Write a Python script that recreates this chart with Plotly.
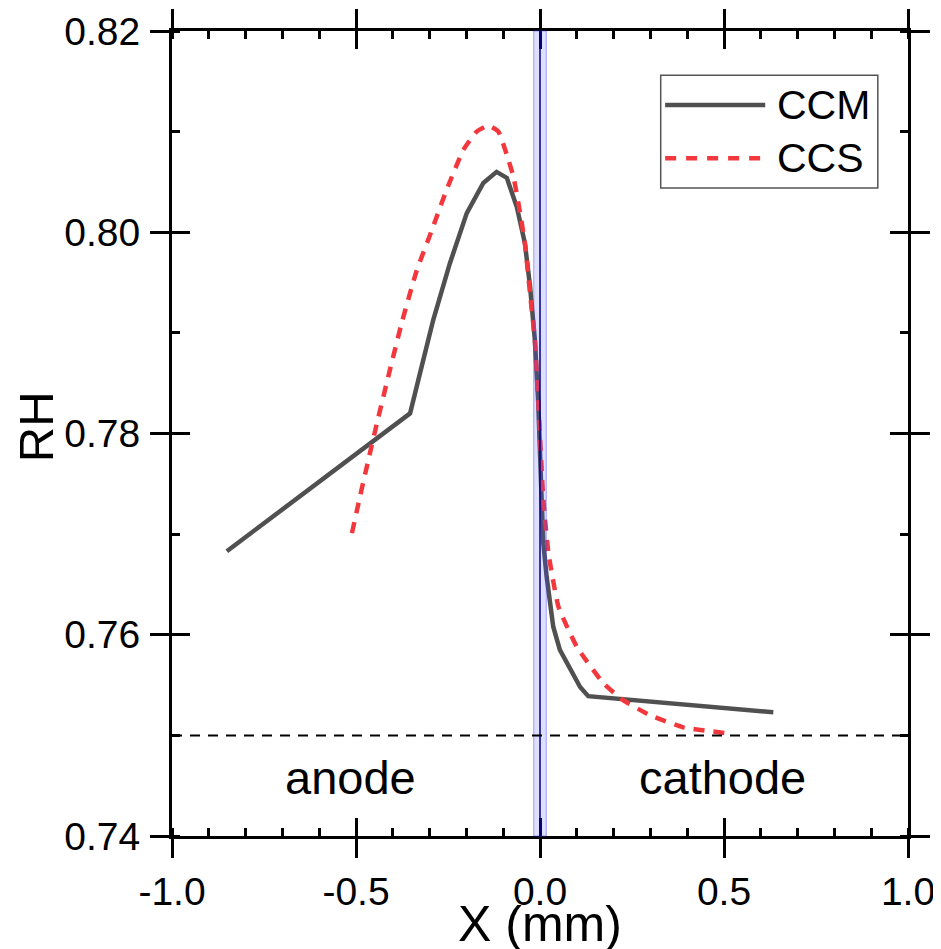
import plotly.graph_objects as go

# ---- data ----
ccm_x = [-0.851, -0.353, -0.326, -0.290, -0.245, -0.199, -0.154, -0.118, -0.090,
         -0.063, -0.041, -0.027, -0.014, -0.005, 0.0045, 0.009, 0.018, 0.036,
         0.054, 0.082, 0.109, 0.131, 0.254, 0.417, 0.634]
ccm_y = [0.7683, 0.7820, 0.7860, 0.7913, 0.7969, 0.8019, 0.8049, 0.8060, 0.8054,
         0.8025, 0.7989, 0.7946, 0.7893, 0.7833, 0.7734, 0.7691, 0.7658, 0.7608,
         0.7585, 0.7565, 0.7548, 0.7539, 0.7535, 0.7530, 0.7523]

ccs_x = [-0.511, -0.490, -0.465, -0.440, -0.410, -0.375, -0.335, -0.294, -0.254,
         -0.208, -0.172, -0.140, -0.113, -0.091, -0.072, -0.054, -0.041, -0.027,
         -0.014, -0.005, 0.009, 0.023, 0.050, 0.100, 0.172, 0.226, 0.299, 0.389, 0.511]
ccs_y = [0.7701, 0.7736, 0.7776, 0.7815, 0.7860, 0.7911, 0.7962, 0.8002, 0.8042,
         0.8082, 0.8100, 0.8106, 0.8100, 0.8078, 0.8055, 0.8019, 0.7989, 0.7939,
         0.7893, 0.7833, 0.7734, 0.7681, 0.7628, 0.7588, 0.7552, 0.7535, 0.7520,
         0.7508, 0.7502]

series_names = ["CCM", "CCS"]
region_labels = ["anode", "cathode"]
region_label_x = [-0.514, 0.495]
region_label_y = 0.7458
baseline_rh = 0.75
membrane_half = 0.017

x_range = [-1.0, 1.0]
y_range = [0.74, 0.82]
x_tickvals = [-1.0, -0.5, 0.0, 0.5, 1.0]
x_ticktext = ["-1.0", "-0.5", "0.0", "0.5", "1.0"]
y_tickvals = [0.74, 0.76, 0.78, 0.80, 0.82]
y_ticktext = ["0.74", "0.76", "0.78", "0.80", "0.82"]

GRAY = "#505050"
RED = "#f2383c"
FONT = "Liberation Sans, Arial, sans-serif"

fig = go.Figure()

fig.add_trace(go.Scatter(x=ccm_x, y=ccm_y, mode="lines", name=series_names[0],
                         line=dict(color=GRAY, width=4.5), showlegend=False))
fig.add_trace(go.Scatter(x=ccs_x, y=ccs_y, mode="lines", name=series_names[1],
                         line=dict(color=RED, width=4.5, dash="11px,9px", shape="spline", smoothing=0.4),
                         showlegend=False))
# dummy trace for the overlay (inside-tick) axes
fig.add_trace(go.Scatter(x=[None], y=[None], xaxis="x2", yaxis="y2",
                         showlegend=False, hoverinfo="skip"))

# membrane band
fig.add_shape(type="rect", xref="x", yref="paper", x0=-membrane_half, x1=membrane_half,
              y0=0, y1=1, fillcolor="rgba(80,80,255,0.18)",
              line=dict(color="rgba(60,60,255,0.45)", width=1), layer="above")
fig.add_shape(type="line", xref="x", yref="paper", x0=0, x1=0, y0=0, y1=1,
              line=dict(color="#000080", width=1.5), layer="above")
# baseline
fig.add_shape(type="line", xref="paper", yref="y", x0=0, x1=1, y0=baseline_rh, y1=baseline_rh,
              line=dict(color="black", width=2, dash="10px,8px"), layer="above")

# region labels
for lab, lx in zip(region_labels, region_label_x):
    fig.add_annotation(x=lx, y=region_label_y, xref="x", yref="y", text=lab,
                       showarrow=False, yanchor="middle",
                       font=dict(family=FONT, size=47, color="black"))

# axis titles
fig.add_annotation(x=0.5, y=-0.109, xref="paper", yref="paper", text="X (mm)",
                   showarrow=False, xanchor="center", yanchor="middle",
                   font=dict(family=FONT, size=50, color="black"))
fig.add_annotation(x=-0.1848, y=0.509, xref="paper", yref="paper", text="RH",
                   showarrow=False, xanchor="center", yanchor="middle", textangle=-90,
                   font=dict(family=FONT, size=49, color="black"))

# manual legend
lx0, lx1, ly0, ly1 = 0.664, 0.959, 0.805, 0.945
fig.add_shape(type="rect", xref="paper", yref="paper", x0=lx0, x1=lx1, y0=ly0, y1=ly1,
              line=dict(color="#555555", width=1.5), fillcolor="white", layer="above")
leg_rows = [(0.908, GRAY, "solid"), (0.842, RED, "11px,10px")]
for (yy, col, dsh), nm in zip(leg_rows, series_names):
    fig.add_shape(type="line", xref="paper", yref="paper", x0=0.670, x1=0.806, y0=yy, y1=yy,
                  line=dict(color=col, width=4.5, dash=dsh), layer="above")
    fig.add_annotation(x=0.819, y=yy, xref="paper", yref="paper", text=nm, showarrow=False,
                       xanchor="left", yanchor="middle",
                       font=dict(family=FONT, size=41, color="black"))

axis_common = dict(showgrid=False, zeroline=False)

# page body has an 8px default margin: the figure is sized/shifted to compensate
fig.update_layout(
    width=933, height=941,
    margin=dict(l=164, r=33, t=23, b=113, autoexpand=False),
    paper_bgcolor="white", plot_bgcolor="white",
    font=dict(family=FONT, color="black"),
    showlegend=False,
    xaxis=dict(range=x_range, tickmode="array", tickvals=x_tickvals, ticktext=x_ticktext,
               ticks="outside", ticklen=19, tickwidth=3, tickcolor="black",
               showline=True, linewidth=3, linecolor="black", mirror="allticks",
               minor=dict(ticks="inside", ticklen=8, tickwidth=3, dtick=0.1, tick0=-1.0,
                          tickcolor="black"),
               tickfont=dict(size=39, family=FONT), ticklabelstandoff=0,
               **axis_common),
    yaxis=dict(range=y_range, tickmode="array", tickvals=y_tickvals, ticktext=y_ticktext,
               ticks="outside", ticklen=19, tickwidth=3, tickcolor="black",
               showline=True, linewidth=3, linecolor="black", mirror="allticks",
               minor=dict(ticks="inside", ticklen=8, tickwidth=3, dtick=0.01, tick0=0.74,
                          tickcolor="black"),
               tickfont=dict(size=39, family=FONT), ticklabelstandoff=2,
               **axis_common),
    xaxis2=dict(range=x_range, overlaying="x", tickmode="array", tickvals=x_tickvals,
                ticks="inside", ticklen=18, tickwidth=3, tickcolor="black",
                showline=False, mirror="allticks", showticklabels=False, **axis_common),
    yaxis2=dict(range=y_range, overlaying="y", tickmode="array", tickvals=y_tickvals,
                ticks="inside", ticklen=18, tickwidth=3, tickcolor="black",
                showline=False, mirror="allticks", showticklabels=False, **axis_common),
)

fig.write_html("out.html")
